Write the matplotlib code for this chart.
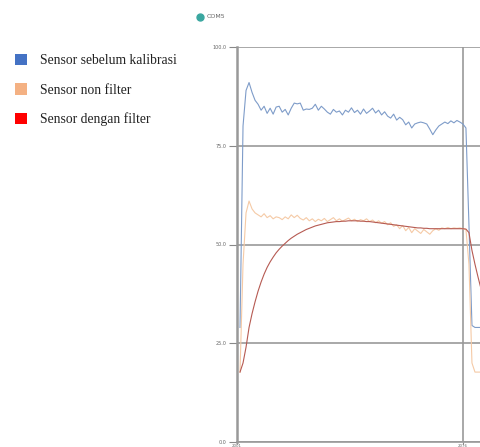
import matplotlib
matplotlib.use("Agg")
import matplotlib.pyplot as plt
from matplotlib.patches import Patch
from matplotlib.lines import Line2D

# ---- data ----
series_names = ["Sensor sebelum kalibrasi", "Sensor non filter", "Sensor dengan filter"]
legend_colors = ["#4472C4", "#F4B183", "#FF0000"]
line_colors = ["#7e9cc9", "#f5caa6", "#b65a52"]

blue = [29, 80, 89, 91, 88.5, 86.5, 85.5, 84, 85, 83.2,
        84.5, 83, 84.8, 85, 83.5, 84.2, 82.8, 84.5, 85.8, 85.6,
        85.8, 84, 84.3, 84.2, 84.5, 85.5, 84, 85, 84.3, 83.5,
        83, 84.2, 83.5, 83.8, 82.8, 84, 83.5, 84.6, 83.4, 84,
        83, 84.3, 83.2, 83.8, 84.5, 83.3, 84, 82.8, 83.6, 82.5,
        82, 83, 81.5, 82.2, 81.6, 80.3, 81, 79.5, 80.5, 80.8,
        81, 80.8, 80.5, 79.2, 77.8, 79, 80, 80.5, 81, 80.6,
        81.3, 80.8, 81.4, 81, 80.5, 79.5, 55, 29.5, 29, 29, 29]
orange = [17.7, 45, 58, 61, 59, 58, 57.5, 57, 57.8, 56.8,
          57.3, 56.5, 57, 56.8, 56.3, 57, 56.5, 57.5, 56.8, 57.4,
          56.6, 56.2, 56.8, 56, 56.5, 55.8, 56.4, 56, 56.6, 55.8,
          56.3, 56.8, 56, 56.5, 55.9, 56.3, 56.7, 56, 56.4, 55.8,
          56.3, 56, 56.5, 55.8, 56.2, 55.5, 56, 55.4, 55.8, 55,
          55.5, 54.6, 55, 54, 54.8, 53.5, 54.3, 53, 54, 53.4,
          52.8, 53.8, 53.2, 52.6, 53.5, 54, 53.6, 54.2, 54, 54.3,
          54, 54.2, 54.1, 54.2, 54, 53.8, 45, 20, 17.7, 17.7, 17.7]
red = [17.7, 20, 24, 29, 32.5, 35.5, 38.2, 40.5, 42.5, 44.2,
       45.6, 46.8, 47.9, 48.8, 49.6, 50.3, 51, 51.6, 52.1, 52.6,
       53, 53.4, 53.8, 54.1, 54.4, 54.7, 54.9, 55.1, 55.3, 55.5,
       55.6, 55.7, 55.8, 55.8, 55.9, 55.9, 56, 56, 56, 56,
       55.9, 55.9, 55.8, 55.8, 55.7, 55.6, 55.5, 55.4, 55.3, 55.2,
       55.1, 55, 54.9, 54.8, 54.7, 54.6, 54.5, 54.4, 54.3, 54.2,
       54.2, 54.1, 54.1, 54, 54, 54, 54, 54, 54, 54,
       54, 54, 54, 54, 54, 53.9, 53, 48.5, 45, 41.8, 38.8]
x = list(range(1, len(blue) + 1))

y_ticks = [0, 25, 50, 75, 100]
y_tick_labels = ["0.0", "25.0", "50.0", "75.0", "100.0"]
x_ticks = [0, 75]
x_tick_labels = ["2001", "2076"]
port_label = "COM5"

# ---- figure ----
W, H = 481, 447
fig = plt.figure(figsize=(W / 100, H / 100), dpi=100)
fig.patch.set_facecolor("white")

ax = fig.add_axes([237 / W, 5 / H, (W - 237) / W, (442 - 47) / H])
for series, c in zip([blue, orange, red], line_colors):
    ax.plot(x, series, color=c, lw=0.8, solid_joinstyle="round")

ax.set_xlim(0, 81)
ax.set_ylim(0, 100)
ax.set_yticks(y_ticks)
ax.set_yticklabels(y_tick_labels)
ax.set_xticks(x_ticks)
ax.set_xticklabels(x_tick_labels)
ax.tick_params(axis="y", length=6, width=0.8, color="#888888", labelsize=3.5,
               labelcolor="#666666", pad=1.5)
ax.tick_params(axis="x", length=1.5, width=0.8, color="#888888", labelsize=2.8,
               labelcolor="#666666", pad=0.2)
ax.grid(True, color="#999999", lw=1.2)
ax.set_axisbelow(True)
for s in ["top", "right"]:
    ax.spines[s].set_visible(False)
ax.spines["left"].set_color("#999999")
ax.spines["left"].set_linewidth(1.8)
ax.spines["bottom"].set_color("#999999")
ax.spines["bottom"].set_linewidth(1.2)
ax.patch.set_alpha(0)

# port label at top
fig.text(207 / W, 1 - 17 / H, port_label, fontsize=4.5, color="#666666",
         va="center", ha="left")
fig.add_artist(Line2D([200 / W], [1 - 17 / H], marker="o", markersize=5,
                      color="#3aa7a0", transform=fig.transFigure))

# left legend
handles = [Patch(facecolor=c, edgecolor="none") for c in legend_colors]
fig.legend(handles, series_names, loc="upper left",
           bbox_to_anchor=(15 / W, 1 - 54 / H), frameon=False,
           prop={"family": "Liberation Serif", "size": 9.8},
           handlelength=0.9, handleheight=0.9, handletextpad=0.95,
           labelspacing=1.17, borderpad=0, borderaxespad=0, labelcolor="#222222")

fig.savefig("out.png", dpi=100, facecolor="white")
